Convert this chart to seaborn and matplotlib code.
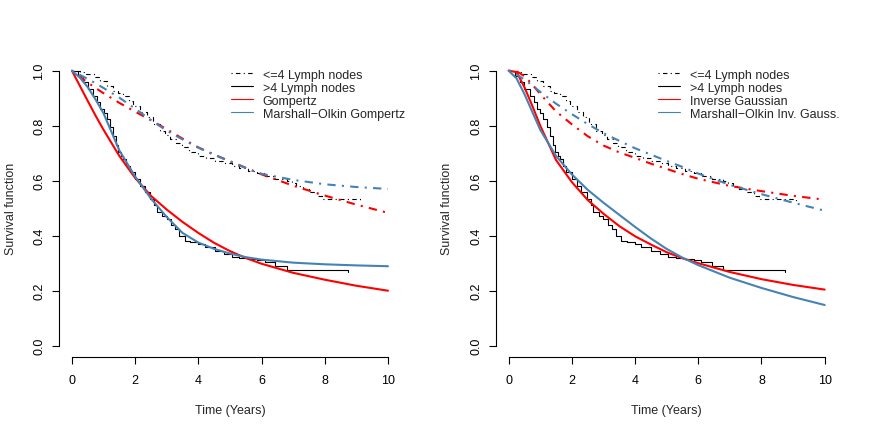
import matplotlib
matplotlib.use("Agg")
import matplotlib.pyplot as plt
from matplotlib.lines import Line2D
import seaborn as sns

# Kaplan-Meier estimates (same data in both panels)
km_lo_t = [0, 0.25, 0.46, 0.7, 0.89, 1.1, 1.31, 1.45, 1.62, 1.8, 1.94, 2.15, 2.36, 2.55,
           2.78, 2.94, 3.1, 3.3, 3.47, 3.7, 3.99, 4.25, 4.52, 4.8, 5.05, 5.3, 5.57, 5.85,
           6.1, 6.42, 6.79, 6.95, 7.1, 7.3, 7.52, 7.75, 7.95, 9.1]
km_lo_s = [1.0, 0.995, 0.988, 0.976, 0.964, 0.945, 0.927, 0.918, 0.909, 0.89, 0.873, 0.851,
           0.83, 0.806, 0.782, 0.765, 0.752, 0.737, 0.721, 0.705, 0.691, 0.682, 0.673, 0.664,
           0.655, 0.645, 0.636, 0.627, 0.618, 0.606, 0.60, 0.59, 0.582, 0.57, 0.558, 0.545,
           0.533, 0.527]
km_hi_t = [0, 0.2, 0.36, 0.5, 0.67, 0.8, 0.89, 1.0, 1.1, 1.2, 1.31, 1.4, 1.46, 1.55, 1.62,
           1.72, 1.83, 2.0, 2.15, 2.3, 2.47, 2.6, 2.68, 2.85, 3.0, 3.15, 3.26, 3.4, 3.57,
           3.75, 3.99, 4.2, 4.52, 4.8, 5.05, 5.3, 5.57, 5.85, 6.1, 6.42, 6.79, 8.73]
km_hi_s = [1.0, 0.98, 0.958, 0.935, 0.909, 0.885, 0.861, 0.845, 0.824, 0.795, 0.764, 0.73,
           0.703, 0.69, 0.679, 0.655, 0.63, 0.605, 0.582, 0.558, 0.533, 0.51, 0.485, 0.472,
           0.461, 0.44, 0.424, 0.40, 0.382, 0.376, 0.37, 0.36, 0.345, 0.335, 0.321, 0.318,
           0.315, 0.31, 0.303, 0.291, 0.276, 0.269]

# fitted survival curves, read at these times
fit_t = [0, 0.25, 0.5, 0.75, 1, 1.5, 2, 2.5, 3, 3.5, 4, 4.5, 5, 5.5, 6, 7, 8, 9, 10]

gomp_lo = [1.0, 0.978, 0.957, 0.937, 0.918, 0.883, 0.851, 0.82, 0.787, 0.753, 0.721, 0.695,
           0.671, 0.647, 0.623, 0.582, 0.546, 0.513, 0.483]
gomp_hi = [1.0, 0.945, 0.89, 0.836, 0.785, 0.69, 0.61, 0.545, 0.495, 0.45, 0.41, 0.374,
           0.344, 0.319, 0.298, 0.265, 0.24, 0.218, 0.20]
mogomp_lo = [1.0, 0.985, 0.97, 0.954, 0.937, 0.902, 0.862, 0.82, 0.782, 0.75, 0.72, 0.694,
             0.67, 0.646, 0.625, 0.603, 0.587, 0.577, 0.57]
mogomp_hi = [1.0, 0.975, 0.94, 0.895, 0.845, 0.71, 0.615, 0.535, 0.468, 0.41, 0.375, 0.352,
             0.335, 0.322, 0.313, 0.302, 0.296, 0.292, 0.289]

ig_lo = [1.0, 0.998, 0.98, 0.95, 0.915, 0.852, 0.805, 0.762, 0.728, 0.703, 0.683, 0.662,
         0.643, 0.624, 0.607, 0.581, 0.562, 0.545, 0.531]
ig_hi = [1.0, 0.995, 0.94, 0.872, 0.80, 0.675, 0.595, 0.53, 0.48, 0.435, 0.398, 0.368,
         0.34, 0.318, 0.30, 0.268, 0.242, 0.221, 0.204]
moig_lo = [1.0, 0.986, 0.968, 0.946, 0.923, 0.88, 0.842, 0.806, 0.773, 0.745, 0.718, 0.695,
           0.672, 0.65, 0.626, 0.585, 0.551, 0.52, 0.491]
moig_hi = [1.0, 0.972, 0.915, 0.85, 0.785, 0.69, 0.623, 0.567, 0.52, 0.476, 0.432, 0.39,
           0.352, 0.32, 0.293, 0.247, 0.21, 0.177, 0.148]

RED = "#FF0000"
BLUE = "#4682B4"
DOTDASH = (0, (1, 3, 4, 3))
FS = 9

sns.set_theme(style="ticks")
plt.rcParams["font.family"] = ["Liberation Sans", "DejaVu Sans"]
plt.rcParams["font.size"] = FS


def draw_panel(ax, lo_red, hi_red, lo_blue, hi_blue, red_name, blue_name):
    sns.lineplot(x=km_lo_t, y=km_lo_s, ax=ax, color="black", lw=0.8,
                 linestyle=DOTDASH, drawstyle="steps-post", estimator=None, sort=False)
    sns.lineplot(x=km_hi_t, y=km_hi_s, ax=ax, color="black", lw=0.8,
                 drawstyle="steps-post", estimator=None, sort=False)
    sns.lineplot(x=fit_t, y=lo_red, ax=ax, color=RED, lw=1.5, linestyle=DOTDASH,
                 estimator=None, sort=False)
    sns.lineplot(x=fit_t, y=hi_red, ax=ax, color=RED, lw=1.5, estimator=None, sort=False)
    sns.lineplot(x=fit_t, y=lo_blue, ax=ax, color=BLUE, lw=1.5, linestyle=DOTDASH,
                 estimator=None, sort=False)
    sns.lineplot(x=fit_t, y=hi_blue, ax=ax, color=BLUE, lw=1.5, estimator=None, sort=False)

    ax.set_xlim(-0.4, 10.4)
    ax.set_ylim(-0.04, 1.04)
    ax.set_xticks(range(0, 11, 2))
    ax.set_yticks([0.0, 0.2, 0.4, 0.6, 0.8, 1.0])
    ax.set_yticklabels(["0.0", "0.2", "0.4", "0.6", "0.8", "1.0"], rotation=90, va="center")
    for side in ("top", "right"):
        ax.spines[side].set_visible(False)
    ax.spines["left"].set_bounds(0, 1)
    ax.spines["bottom"].set_bounds(0, 10)
    for side in ("left", "bottom"):
        ax.spines[side].set_linewidth(0.8)
        ax.spines[side].set_color("black")
    ax.tick_params(axis="both", direction="out", length=5, width=0.8, colors="black",
                   labelsize=FS)
    ax.tick_params(axis="x", pad=7.5)
    ax.tick_params(axis="y", pad=5)
    ax.set_xlabel("Time (Years)", fontsize=FS)
    ax.set_ylabel("Survival function", fontsize=FS)
    ax.xaxis.set_label_coords(0.5, -0.16)
    ax.yaxis.set_label_coords(-0.125, 0.5)
    ax.grid(False)

    handles = [
        Line2D([], [], color="black", lw=0.8, linestyle=DOTDASH),
        Line2D([], [], color="black", lw=0.8),
        Line2D([], [], color=RED, lw=0.8),
        Line2D([], [], color=BLUE, lw=0.8),
    ]
    names = ["<=4 Lymph nodes", ">4 Lymph nodes", red_name, blue_name]
    return handles, names


fig = plt.figure(figsize=(8.72, 4.35), dpi=100)
ax1 = fig.add_axes([59.3 / 872, 77.3 / 435, 341.3 / 872, 297 / 435])
ax2 = fig.add_axes([496.0 / 872, 77.3 / 435, 341.3 / 872, 297 / 435])

legend_kw = dict(loc="upper left", frameon=False, borderpad=0, borderaxespad=0,
                 handlelength=1.75, handletextpad=0.8, labelspacing=0.08, fontsize=FS)

h, n = draw_panel(ax1, gomp_lo, gomp_hi, mogomp_lo, mogomp_hi,
                  "Gompertz", "Marshall\u2212Olkin Gompertz")
ax1.legend(h, n, bbox_to_anchor=(0.503, 0.97), **legend_kw)

h, n = draw_panel(ax2, ig_lo, ig_hi, moig_lo, moig_hi,
                  "Inverse Gaussian", "Marshall\u2212Olkin Inv. Gauss.")
ax2.legend(h, n, bbox_to_anchor=(0.475, 0.97), **legend_kw)

fig.savefig("out.png", dpi=100)
